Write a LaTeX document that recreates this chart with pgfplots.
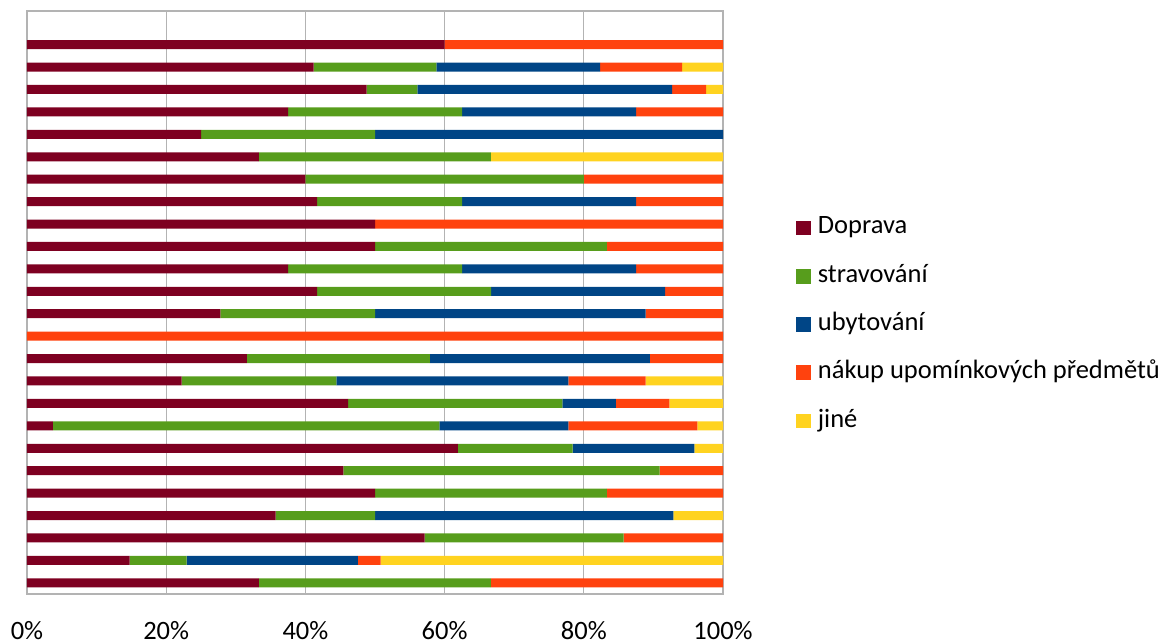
\documentclass[border=0pt]{standalone}
\usepackage{fontspec}
\setmainfont{Carlito}
\usepackage{pgfplots}
\usepackage{pgfplotstable}
\pgfplotsset{compat=1.18}
\definecolor{cD}{HTML}{7E0021}
\definecolor{cS}{HTML}{579D1C}
\definecolor{cU}{HTML}{004586}
\definecolor{cN}{HTML}{FF420E}
\definecolor{cJ}{HTML}{FFD320}
\definecolor{gridgray}{HTML}{B3B3B3}
\pgfplotstableread{
y d s u n j
1 60 0 0 40 0
2 41.18 17.65 23.53 11.76 5.88
3 48.78 7.32 36.59 4.88 2.43
4 37.5 25 25 12.5 0
5 25 25 50 0 0
6 33.33 33.33 0 0 33.34
7 40 40 0 20 0
8 41.67 20.83 25 12.5 0
9 50 0 0 50 0
10 50 33.33 0 16.67 0
11 37.5 25 25 12.5 0
12 41.67 25 25 8.33 0
13 27.78 22.22 38.89 11.11 0
14 0 0 0 100 0
15 31.58 26.32 31.58 10.52 0
16 22.22 22.22 33.33 11.11 11.12
17 46.15 30.77 7.69 7.69 7.70
18 3.7 55.56 18.52 18.52 3.7
19 61.9 16.5 17.5 0 4.1
20 45.45 45.45 0 9.1 0
21 50 33.33 0 16.67 0
22 35.71 14.29 42.86 0 7.14
23 57.14 28.57 0 14.29 0
24 14.75 8.2 24.59 3.28 49.18
25 33.33 33.33 0 33.34 0
}\data
\begin{document}
\fontsize{26.5}{31}\selectfont
\begin{tikzpicture}[x=1pt,y=1pt]
\path[use as bounding box] (0,0) rectangle (1169,644);
\begin{axis}[
  at={(27pt,50pt)}, anchor=south west,
  scale only axis,
  width=696pt, height=583pt,
  xbar stacked,
  bar width=9pt,
  y dir=reverse,
  xmin=0, xmax=100,
  ymin=-0.5, ymax=25.5,
  ytick=\empty,
  xtick={0,20,40,60,80,100},
  xticklabels={0\%,20\%,40\%,60\%,80\%,100\%},
  major tick length=0pt,
  xmajorgrids,
  grid style={gridgray, line width=1.3pt},
  axis line style={gridgray, line width=1.5pt},
  xticklabel style={font=\fontsize{26.5}{31}\selectfont, inner sep=0pt, yshift=-27pt},
  legend style={draw=none, fill=none, inner sep=0pt, at={(1,0.5)}, anchor=west, xshift=73pt, yshift=-22pt,
    font=\fontsize{26.5}{31}\selectfont,
    nodes={inner sep=0pt, text height=18pt, text depth=6pt},
    row sep=24.3pt,
    /tikz/every odd column/.append style={column sep=7pt}},
  legend cell align=left,
  legend image code/.code={\fill[#1] (0pt,-7.35pt) rectangle (14.7pt,7.35pt);},
]
\addplot[fill=cD, draw=none] table[x=d, y=y] {\data};
\addplot[fill=cS, draw=none] table[x=s, y=y] {\data};
\addplot[fill=cU, draw=none] table[x=u, y=y] {\data};
\addplot[fill=cN, draw=none] table[x=n, y=y] {\data};
\addplot[fill=cJ, draw=none] table[x=j, y=y] {\data};
\legend{Doprava, stravování, ubytování, nákup upomínkových předmětů, jiné}
\end{axis}
\end{tikzpicture}
\end{document}
